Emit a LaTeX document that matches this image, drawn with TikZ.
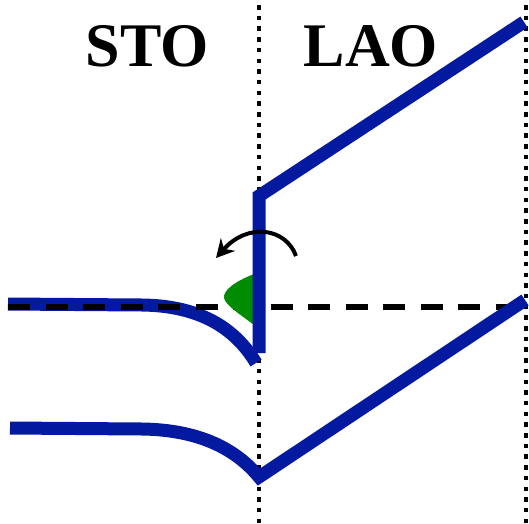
\documentclass[tikz,border=0pt]{standalone}
\usepackage{fontspec}
\setmainfont{Liberation Serif}
\usetikzlibrary{arrows.meta}
\definecolor{bandblue}{RGB}{3,25,160}
\definecolor{leafgreen}{RGB}{0,140,0}
\begin{document}
\begin{tikzpicture}[x=1pt,y=-1pt,
  band/.style={draw=bandblue,line width=13pt},
  divider/.style={draw=black,line width=4.5pt,dash pattern=on 4.5pt off 6.2pt},
  level/.style={draw=black,line width=6pt,dash pattern=on 22pt off 15.5pt},
  label/.style={font=\bfseries\fontsize{62}{62}\selectfont,inner sep=0pt}]
\useasboundingbox (0,0) rectangle (529,523);
% dividers
\draw[divider] (259,5) -- (259,523);
\draw[divider] (526,5) -- (526,523);
% labels
\node[label] (sto) at (147,46) {STO};
\node[label] (lao) at (371,46) {LAO};
% upper band, STO side
\draw[band] (8,304) -- (143,305) .. controls (200,306) and (235,328) .. (256,363);
% dashed level
\draw[level] (8,307) -- (524,307);
% green region
\fill[leafgreen] (254,274) .. controls (236,281) and (223,290) .. (224,298)
  .. controls (226,306) and (240,314) .. (254,325) -- cycle;
% upper band, LAO side
\draw[band] (259,353) -- (259,196) -- (524,22);
% lower band
\draw[band] (10,428) -- (143,429) .. controls (198,430) and (235,448) .. (259,477) -- (525,300);
% curved arrow
\draw[black,line width=4pt,-{Stealth[length=18pt,width=19pt]}] (296,256) .. controls (286,228) and (248,222) .. (216,258);
\end{tikzpicture}
\end{document}
